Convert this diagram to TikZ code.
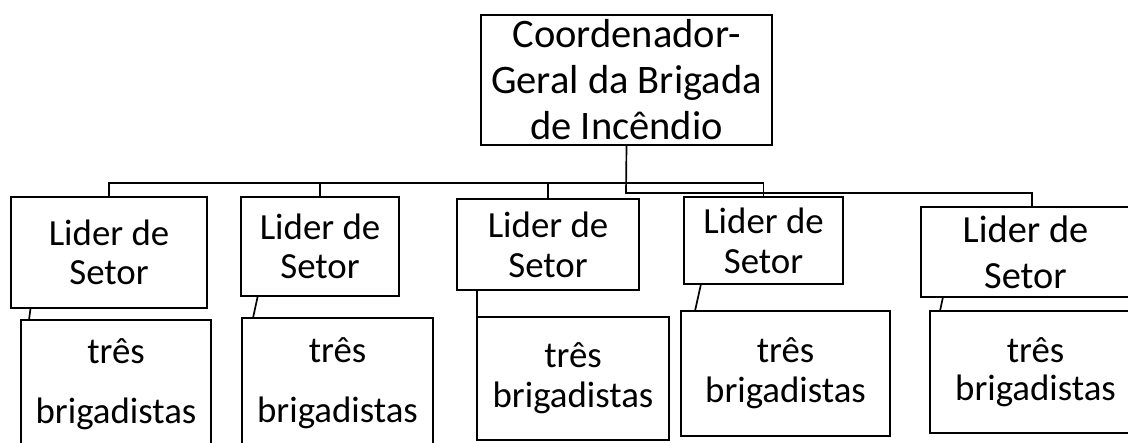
\documentclass[tikz,border=0pt]{standalone}
\usepackage{fontspec}
\setmainfont{Carlito}
\usepackage{tikz}
\usetikzlibrary{positioning}
\tikzset{
    chefe/.style={
           rectangle,
           draw=black, line width=1.2pt,
           minimum width=7.275cm,
           minimum height=3.25cm,
           inner sep=0pt, outer sep=0pt,
           align=center,
           font=\fontsize{28.8}{32.7}\selectfont
           },
    lider/.style={
           rectangle,
           draw=black, line width=1.2pt,
           inner sep=0pt, outer sep=0pt,
           align=center,
           font=\fontsize{26.2}{#1}\selectfont
           },
    brig/.style={
           rectangle,
           draw=black, line width=1.2pt,
           inner sep=0pt, outer sep=0pt,
           align=center,
           font=\fontsize{26.2}{#1}\selectfont
           },
    link/.style={
           draw=black, line width=1.2pt
           }
}

\begin{document}
\begin{tikzpicture}[x=0.025cm, y=-0.025cm, node distance=3cm, on grid]
   \useasboundingbox (0,0) rectangle (1128,442);
   \clip (0,0) rectangle (1128,442);

   \node[chefe] (0) at (626.5,80) {Coordenador-\\Geral da Brigada\\de Incêndio};
   \node[lider=27.7, minimum width=4.9cm, minimum height=2.775cm] (1) at (109,252.5) {Lider de\\Setor};
   \node[lider=27.7, minimum width=3.95cm, minimum height=2.475cm] (2) at (320,246.5) {Lider de\\Setor};
   \node[lider=28.5, minimum width=4.55cm, minimum height=2.275cm] (3) at (548,244.5) {Lider de\\Setor};
   \node[lider=28.5, minimum width=3.975cm, minimum height=2.175cm] (4) at (763.5,240.5) {Lider de\\Setor};
   \node[lider=32.7, minimum width=5.225cm, minimum height=2.25cm,
         font=\fontsize{27.3}{32.7}\selectfont] (5) at (1025.5,252) {Lider de\\Setor};

   \node[brig=42.7, minimum width=4.75cm, minimum height=3.2cm] (6) [below=3.2875cm of 1, xshift=0.175cm] {três\\brigadistas};
   \node[brig=42.7, minimum width=4.775cm, minimum height=3.25cm] (7) [below=3.4125cm of 2, xshift=0.4375cm] {três\\brigadistas};
   \node[brig=28.5, minimum width=4.8cm, minimum height=3.075cm] (8) [below=3.35cm of 3, xshift=0.625cm] {três\\brigadistas};
   \node[brig=28.5, minimum width=5.225cm, minimum height=3.125cm] (9) [below=3.325cm of 4, xshift=0.55cm] {três\\brigadistas};
   \node[brig=27, minimum width=5.275cm, minimum height=3.05cm] (10) [below=3cm of 5, xshift=0.25cm] {três\\brigadistas};

   % barras
   \coordinate (j) at (626,183);
   \coordinate (k) at (626,193);
   \draw[link] (1.north) |- (j) -| (4.north);
   \draw[link] (2.north) -- (2.north |- j);
   \draw[link] (3.north) -- (3.north |- j);
   \draw[link] (0.south) -- (k) -| ([xshift=0.16cm]5.north);

   \draw[link] ([xshift=0.49cm]1.south west) -- ([xshift=0.2cm]6.north west);
   \draw[link] ([xshift=0.42cm]2.south west) -- ([xshift=0.275cm]7.north west);
   \draw[link] (8.north west) -- (8.north west |- 3.south);
   \draw[link] ([xshift=0.425cm]4.south west) -- ([xshift=0.35cm]9.north west);
   \draw[link] ([xshift=0.55cm]5.south west) -- ([xshift=0.25cm]10.north west);
\end{tikzpicture}
\end{document}
